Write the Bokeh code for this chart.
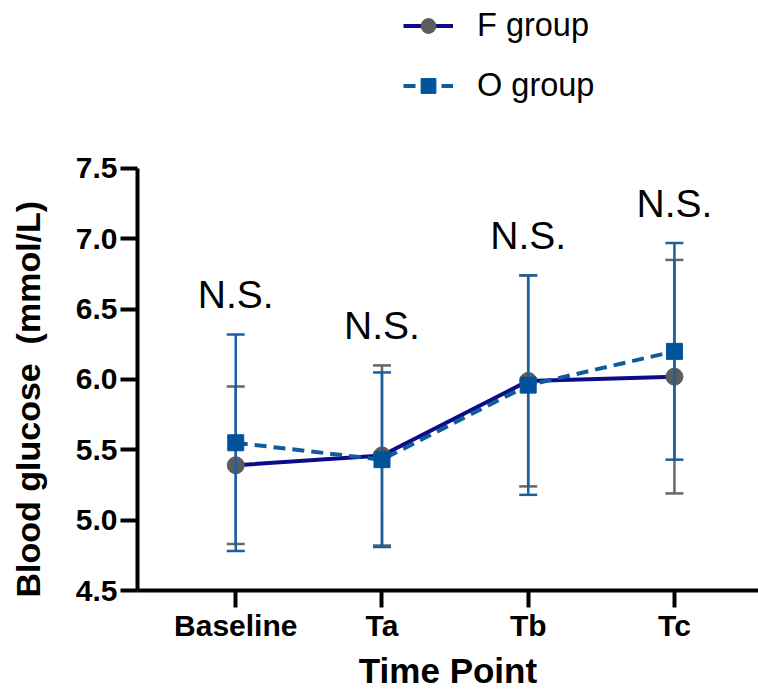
from bokeh.plotting import figure
from bokeh.models import Range1d, FixedTicker, Legend, LegendItem, ColumnDataSource, Title
from bokeh.core.properties import value
from bokeh.embed import file_html
from bokeh.resources import INLINE

# ---- data ----
time_points = ["Baseline", "Ta", "Tb", "Tc"]
f_mean = [5.39, 5.46, 5.99, 6.02]
f_sd = [0.56, 0.64, 0.75, 0.83]
o_mean = [5.55, 5.43, 5.96, 6.20]
o_sd = [0.77, 0.62, 0.78, 0.77]
sig_labels = ["N.S.", "N.S.", "N.S.", "N.S."]
y_ticks = [4.5, 5.0, 5.5, 6.0, 6.5, 7.0, 7.5]

FONT = "Liberation Sans"
F_LINE = "#0c0c8a"
F_MARK = "#5c5c5c"
F_ERR = "#666666"
O_LINE = "#0f5c9c"
O_MARK = "#00529b"
O_ERR = "#1a5f9f"

x = list(range(len(time_points)))
f_up = [m + s for m, s in zip(f_mean, f_sd)]
f_lo = [m - s for m, s in zip(f_mean, f_sd)]
o_up = [m + s for m, s in zip(o_mean, o_sd)]
o_lo = [m - s for m, s in zip(o_mean, o_sd)]
sig_y = [max(a, b) for a, b in zip(f_up, o_up)]

src_f = ColumnDataSource(dict(x=x, mean=f_mean, up=f_up, lo=f_lo))
src_o = ColumnDataSource(dict(x=x, mean=o_mean, up=o_up, lo=o_lo))
src_sig = ColumnDataSource(dict(x=x, y=sig_y, t=sig_labels))

# frame reaches the top of the figure so the legend can sit above the axis
p = figure(width=758, height=692, output_backend="svg", toolbar_location=None,
           title_location=None,
           x_range=Range1d(-0.672, 3.575), y_range=Range1d(4.5, 8.694),
           min_border_left=137, min_border_top=0, min_border_bottom=102,
           min_border_right=0)
p.outline_line_color = None
p.xgrid.visible = False
p.ygrid.visible = False

# F group
p.segment(x0="x", y0="lo", x1="x", y1="up", source=src_f, line_color=F_ERR, line_width=2.5)
p.scatter(x="x", y="up", source=src_f, marker="dash", size=18, line_color=F_ERR, line_width=2.5)
p.scatter(x="x", y="lo", source=src_f, marker="dash", size=18, line_color=F_ERR, line_width=2.5)
f_line = p.line(x="x", y="mean", source=src_f, line_color=F_LINE, line_width=4)
f_pts = p.scatter(x="x", y="mean", source=src_f, marker="circle", size=17,
                  fill_color=F_MARK, line_color=F_MARK)

# O group
p.segment(x0="x", y0="lo", x1="x", y1="up", source=src_o, line_color=O_ERR, line_width=2.5)
p.scatter(x="x", y="up", source=src_o, marker="dash", size=18, line_color=O_ERR, line_width=2.5)
p.scatter(x="x", y="lo", source=src_o, marker="dash", size=18, line_color=O_ERR, line_width=2.5)
o_line = p.line(x="x", y="mean", source=src_o, line_color=O_LINE, line_width=4, line_dash="12 7")
o_pts = p.scatter(x="x", y="mean", source=src_o, marker="square", size=16,
                  fill_color=O_MARK, line_color=O_MARK)

# significance labels
p.text(x="x", y="y", text="t", source=src_sig, y_offset=-40,
       text_font=value(FONT), text_font_size="39px", text_color="black",
       text_align="center", text_baseline="middle")

# axes
for ax in (p.xaxis[0], p.yaxis[0]):
    ax.axis_line_width = 4
    ax.axis_line_color = "black"
    ax.major_tick_line_width = 4
    ax.major_tick_line_color = "black"
    ax.major_tick_out = 17
    ax.major_tick_in = 0
    ax.minor_tick_line_color = None
    ax.major_label_text_font = FONT
    ax.major_label_text_font_style = "bold"
    ax.major_label_text_font_size = "30px"
    ax.major_label_text_color = "black"
    ax.axis_label_text_font = FONT
    ax.axis_label_text_font_style = "bold"
    ax.axis_label_text_font_size = "35px"
    ax.axis_label_text_color = "black"

p.xaxis.ticker = FixedTicker(ticks=x)
p.xaxis.major_label_overrides = {i: t for i, t in zip(x, time_points)}
p.xaxis.axis_label = "Time Point"
p.xaxis.major_label_standoff = 1
p.xaxis.axis_label_standoff = 6

p.yaxis.ticker = FixedTicker(ticks=y_ticks)
p.yaxis.bounds = (y_ticks[0], y_ticks[-1])
p.yaxis.major_label_overrides = {t: f"{t:.1f}" for t in y_ticks}
p.yaxis.major_label_standoff = 3

ylab = Title(text="Blood glucose\u00a0 (mmol/L)\n\u00a0", align="left", offset=-7,
             standoff=-25, text_font=FONT, text_font_size="34px",
             text_font_style="bold", text_color="black")
p.add_layout(ylab, "left")

legend = Legend(items=[LegendItem(label="F group", renderers=[f_line, f_pts]),
                       LegendItem(label="O group", renderers=[o_line, o_pts])],
                location=(266, 486), orientation="vertical")
legend.label_text_font = FONT
legend.label_text_font_size = "32.5px"
legend.label_text_color = "black"
legend.glyph_width = 50
legend.glyph_height = 37
legend.label_height = 37
legend.label_standoff = 24
legend.spacing = 23
legend.padding = 0
legend.margin = 0
legend.border_line_color = None
legend.background_fill_alpha = 0
p.add_layout(legend)

open("out.html", "w").write(file_html(p, INLINE))
